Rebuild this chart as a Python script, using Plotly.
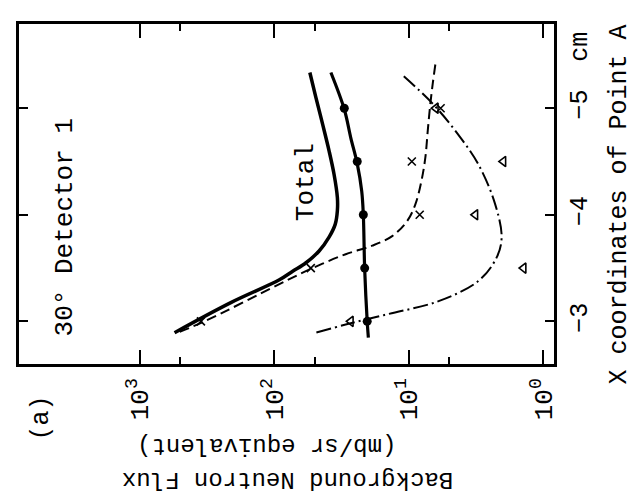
import plotly.graph_objects as go

# ---- data (x coordinate of point A in cm, flux in mb/sr equivalent) ----
total_pos = [-5.335, -5.10, -4.85, -4.60, -4.38, -4.16, -4.04, -3.91, -3.79, -3.66, -3.55, -3.47, -3.39, -3.176, -2.894]
total_flux = [54.5, 49.1, 43.8, 39.2, 36.0, 34.0, 34.0, 35.3, 39.2, 46.5, 58.2, 73.1, 91.8, 211, 553]

dot_line_pos = [-5.335, -4.99, -4.72, -4.48, -4.22, -4.0, -3.49, -3.0, -2.847]
dot_line_flux = [38.0, 30.2, 27.0, 24.2, 22.4, 21.8, 21.3, 20.4, 20.0]
dot_pts_pos = [-5.0, -4.5, -4.0, -3.5, -3.0]
dot_pts_flux = [30.2, 24.2, 21.8, 21.3, 20.4]

dash_pos = [-5.41, -5.23, -5.04, -4.79, -4.54, -4.32, -4.10, -3.94, -3.80, -3.71, -3.63, -3.50, -3.35, -3.0, -2.894]
dash_flux = [6.35, 6.64, 6.92, 7.23, 7.53, 8.05, 8.93, 10.3, 13.3, 18.7, 29.5, 52.0, 91.8, 331, 524]
x_pts_pos = [-5.0, -4.5, -4.0, -3.5, -3.0]
x_pts_flux = [5.8, 9.5, 8.3, 53.6, 352]

dd_pos = [-5.30, -5.05, -4.79, -4.47, -4.10, -3.79, -3.60, -3.38, -3.19, -3.07, -2.97, -2.894]
dd_flux = [10.9, 6.73, 4.52, 3.03, 2.28, 2.04, 2.22, 3.03, 6.0, 14.1, 29.5, 49.0]
tri_pts_pos = [-5.0, -4.5, -4.0, -3.5, -3.0]
tri_pts_flux = [6.3, 1.98, 3.2, 1.4, 27.0]

flux_tickvals = [1, 10, 100, 1000]
flux_ticktext = ["10<sup>0</sup>", "10<sup>1</sup>", "10<sup>2</sup>", "10<sup>3</sup>"]
flux_minor = [5, 50, 500]
pos_tickvals = [-3, -4, -5]
pos_ticktext = ["\u22123", "\u22124", "\u22125"]

FONT = "Liberation Mono"

fig = go.Figure()
fig.add_trace(go.Scatter(x=total_flux, y=total_pos, mode="lines",
                         line=dict(color="black", width=3.5, shape="spline", smoothing=1.0)))
fig.add_trace(go.Scatter(x=dot_line_flux, y=dot_line_pos, mode="lines",
                         line=dict(color="black", width=3.2, shape="spline", smoothing=1.0)))
fig.add_trace(go.Scatter(x=dot_pts_flux, y=dot_pts_pos, mode="markers",
                         marker=dict(symbol="circle", size=9, color="black")))
fig.add_trace(go.Scatter(x=dash_flux, y=dash_pos, mode="lines",
                         line=dict(color="black", width=2, dash="10px,5px", shape="spline", smoothing=1.0)))
fig.add_trace(go.Scatter(x=x_pts_flux, y=x_pts_pos, mode="markers",
                         marker=dict(symbol="x-thin", size=8, color="black",
                                     line=dict(color="black", width=1.6))))
fig.add_trace(go.Scatter(x=dd_flux, y=dd_pos, mode="lines",
                         line=dict(color="black", width=2, dash="15px,4px,2px,4px", shape="spline", smoothing=1.0)))
fig.add_trace(go.Scatter(x=tri_pts_flux, y=tri_pts_pos, mode="markers",
                         marker=dict(symbol="triangle-left-open", size=9, color="black",
                                     line=dict(color="black", width=1.6))))

fig.update_xaxes(type="log", range=[3.90, -0.08], tickmode="array",
                 tickvals=flux_tickvals, ticktext=flux_ticktext, tickangle=-90,
                 ticks="inside", ticklen=14, tickwidth=1.5, tickcolor="black",
                 minor=dict(tickmode="array", tickvals=flux_minor, ticks="inside", ticklen=7,
                            tickwidth=1.5, tickcolor="black"),
                 showline=True, linewidth=2.5, linecolor="black", mirror="ticks",
                 showgrid=False, zeroline=False, ticklabelstandoff=1,
                 tickfont=dict(family=FONT, size=26, color="black"))
fig.update_yaxes(range=[-2.60, -5.79], side="right", tickmode="array",
                 tickvals=pos_tickvals, ticktext=pos_ticktext, tickangle=-90,
                 ticks="inside", ticklen=9, tickwidth=1.5, tickcolor="black",
                 showline=True, linewidth=2.5, linecolor="black", mirror="ticks",
                 showgrid=False, zeroline=False, ticklabelstandoff=0,
                 tickfont=dict(family=FONT, size=25, color="black"))

def ann(text, x, y, size, angle):
    fig.add_annotation(text=text, x=x, y=y, xref="paper", yref="paper", showarrow=False,
                       textangle=angle, font=dict(family=FONT, size=size, color="black"),
                       xanchor="center", yanchor="middle")

ann("30\u00b0 Detector 1", 0.0868, 0.403, 26, -90)
ann("Total", 0.5366, 0.535, 26, -90)
ann("(a)", 0.042, -0.159, 25, -90)
ann("(mb/sr equivalent)", 0.463, -0.240, 24, 180)
ann("Background Neutron Flux", 0.502, -0.338, 24, 180)
ann("X coordinates of Point A", 1.122, 0.47, 25, -90)
ann("cm", 1.048, 0.932, 25, -90)

fig.update_layout(width=635, height=492, showlegend=False,
                  margin=dict(l=8, r=89, t=16, b=136),
                  paper_bgcolor="white", plot_bgcolor="white")

fig.write_html("out.html")
